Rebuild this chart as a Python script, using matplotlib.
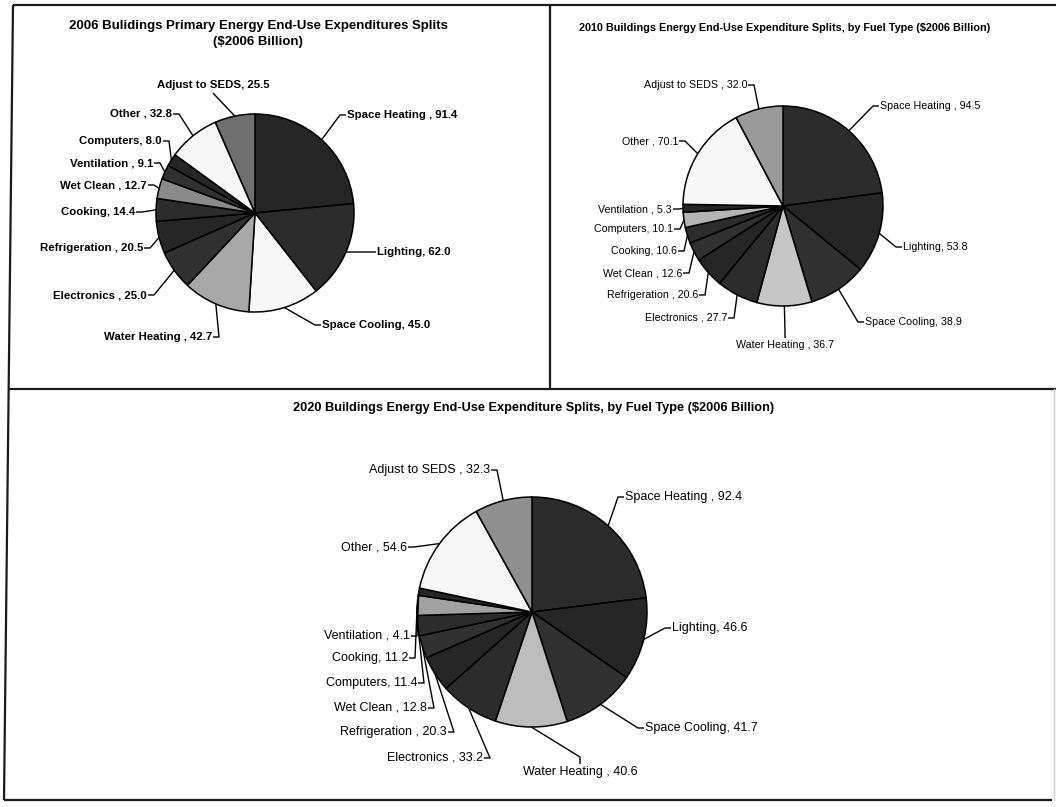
import matplotlib
matplotlib.use("Agg")
import matplotlib.pyplot as plt
import numpy as np

plt.rcParams['font.family'] = ['Liberation Sans', 'DejaVu Sans']

# ---- data (2006 $ billion) ----
categories_2006 = ["Space Heating", "Lighting", "Space Cooling", "Water Heating",
                   "Electronics", "Refrigeration", "Cooking", "Wet Clean",
                   "Ventilation", "Computers", "Other", "Adjust to SEDS"]
values_2006 = [91.4, 62.0, 45.0, 42.7, 25.0, 20.5, 14.4, 12.7, 9.1, 8.0, 32.8, 25.5]

categories_2010 = ["Space Heating", "Lighting", "Space Cooling", "Water Heating",
                   "Electronics", "Refrigeration", "Wet Clean", "Cooking",
                   "Computers", "Ventilation", "Other", "Adjust to SEDS"]
values_2010 = [94.5, 53.8, 38.9, 36.7, 27.7, 20.6, 12.6, 10.6, 10.1, 5.3, 70.1, 32.0]

categories_2020 = ["Space Heating", "Lighting", "Space Cooling", "Water Heating",
                   "Electronics", "Refrigeration", "Wet Clean", "Computers",
                   "Cooking", "Ventilation", "Other", "Adjust to SEDS"]
values_2020 = [92.4, 46.6, 41.7, 40.6, 33.2, 20.3, 12.8, 11.4, 11.2, 4.1, 54.6, 32.3]

title_2006 = "2006 Bulidings Primary Energy End-Use Expenditures Splits\n($2006 Billion)"
title_2010 = "2010 Buildings Energy End-Use Expenditure Splits, by Fuel Type ($2006 Billion)"
title_2020 = "2020 Buildings Energy End-Use Expenditure Splits, by Fuel Type ($2006 Billion)"

# names printed with a space before the comma
spaced_names = {"Space Heating", "Water Heating", "Electronics", "Refrigeration",
                "Wet Clean", "Ventilation", "Other", "Adjust to SEDS"}

# ---- styling ----
W, H = 1056, 807
DK1, DK2, DK3 = "#262626", "#2c2c2c", "#313131"
WHITE = "#f7f7f7"

colors_2006 = [DK1, DK2, WHITE, "#a8a8a8", DK3, DK1, DK2, "#8a8a8a",
               DK3, DK1, WHITE, "#6f6f6f"]
colors_2010 = [DK2, DK1, DK3, "#c6c6c6", DK2, DK1, DK3, DK2,
               "#b4b4b4", DK1, WHITE, "#9a9a9a"]
colors_2020 = [DK2, DK1, DK3, "#bdbdbd", DK2, DK1, DK3, DK2,
               "#a2a2a2", DK1, WHITE, "#8f8f8f"]

# label placement: side of text relative to anchor, anchor x, anchor y (y from top)
layout_2006 = {
    "Space Heating": ("R", 347, 115), "Lighting": ("R", 377, 252),
    "Space Cooling": ("R", 322, 325), "Water Heating": ("L", 212, 337),
    "Electronics": ("L", 147, 295), "Refrigeration": ("L", 143, 248),
    "Cooking": ("L", 135, 212), "Wet Clean": ("L", 147, 185),
    "Ventilation": ("L", 153, 163), "Computers": ("L", 162, 141),
    "Other": ("L", 172, 114), "Adjust to SEDS": ("T", 213, 93),
}
layout_2010 = {
    "Space Heating": ("R", 880, 106), "Lighting": ("R", 903, 247),
    "Space Cooling": ("R", 865, 322), "Water Heating": ("B", 785, 338),
    "Electronics": ("L", 727, 318), "Refrigeration": ("L", 698, 295),
    "Wet Clean": ("L", 682, 273), "Cooking": ("L", 677, 251),
    "Computers": ("L", 673, 229), "Ventilation": ("L", 672, 209),
    "Other": ("L", 678, 141), "Adjust to SEDS": ("L", 747, 85),
}
layout_2020 = {
    "Space Heating": ("R", 625, 497), "Lighting": ("R", 672, 628),
    "Space Cooling": ("R", 645, 728), "Water Heating": ("B", 580, 764),
    "Electronics": ("L", 483, 758), "Refrigeration": ("L", 447, 732),
    "Wet Clean": ("L", 427, 708), "Computers": ("L", 417, 683),
    "Cooking": ("L", 408, 658), "Ventilation": ("L", 410, 636),
    "Other": ("L", 407, 547), "Adjust to SEDS": ("L", 490, 470),
}

fig = plt.figure(figsize=(W / 100, H / 100), dpi=100)
fig.patch.set_facecolor("white")
ax = fig.add_axes([0, 0, 1, 1])


def flip(y):
    return H - y


def draw_pie(cats, vals, colors, center, radius, layout, fsize, weight="normal",
             unspaced=()):
    cx, cy = center[0], flip(center[1])
    wedges, _ = ax.pie(vals, colors=colors, startangle=90, counterclock=False,
                       center=(cx, cy), radius=radius,
                       wedgeprops=dict(edgecolor="black", linewidth=1.1))
    for w, name, v in zip(wedges, cats, vals):
        sep = " , " if (name in spaced_names and name not in unspaced) else ", "
        label = f"{name}{sep}{v:.1f}"
        side, lx, ly = layout[name]
        ly = flip(ly)
        mid = np.deg2rad((w.theta1 + w.theta2) / 2)
        px, py = cx + radius * np.cos(mid), cy + radius * np.sin(mid)
        if side == "L":
            ax.text(lx, ly, label, ha="right", va="center", fontsize=fsize,
                    fontweight=weight)
            xs, ys = [lx + 1, lx + 7, px], [ly, ly, py]
        elif side == "R":
            ax.text(lx, ly, label, ha="left", va="center", fontsize=fsize,
                    fontweight=weight)
            xs, ys = [lx - 1, lx - 7, px], [ly, ly, py]
        elif side == "B":
            ax.text(lx, ly - 2, label, ha="center", va="top", fontsize=fsize,
                    fontweight=weight)
            xs, ys = [lx, lx, px], [ly, ly + 7, py]
        else:  # text above the anchor
            ax.text(lx, ly + 3, label, ha="center", va="bottom", fontsize=fsize,
                    fontweight=weight)
            xs, ys = [lx, px], [ly, py]
        ax.plot(xs, ys, color="black", lw=1.0, solid_capstyle="butt")


draw_pie(categories_2006, values_2006, colors_2006, (255, 213), 99, layout_2006,
         8.2, weight="bold", unspaced=("Adjust to SEDS",))
draw_pie(categories_2010, values_2010, colors_2010, (783, 206), 100, layout_2010, 7.7)
draw_pie(categories_2020, values_2020, colors_2020, (532, 612), 115, layout_2020, 9.0)

# titles
ax.text(258, flip(34), title_2006, ha="center", va="center", fontsize=9.5,
        fontweight="bold", linespacing=1.4)
ax.text(785, flip(28), title_2010, ha="center", va="center", fontsize=7.8,
        fontweight="bold")
ax.text(534, flip(408), title_2020, ha="center", va="center", fontsize=9.2,
        fontweight="bold")

# panel frames
frame_kw = dict(color="#1a1a1a", lw=1.6, solid_capstyle="butt")
ax.plot([13, W], [flip(5), flip(5)], **frame_kw)
ax.plot([13, 4], [flip(5), flip(800)], **frame_kw)
ax.plot([4, 1052], [flip(800), flip(800)], **frame_kw)
ax.plot([550, 550], [flip(5), flip(389)], **frame_kw)
ax.plot([8, W], [flip(389), flip(389)], **frame_kw)
ax.plot([1054, 1054], [flip(389), flip(800)], color="#cfcfcf", lw=1.0)

ax.set_xlim(0, W)
ax.set_ylim(0, H)
ax.set_axis_off()

fig.savefig("out.png", dpi=100)
